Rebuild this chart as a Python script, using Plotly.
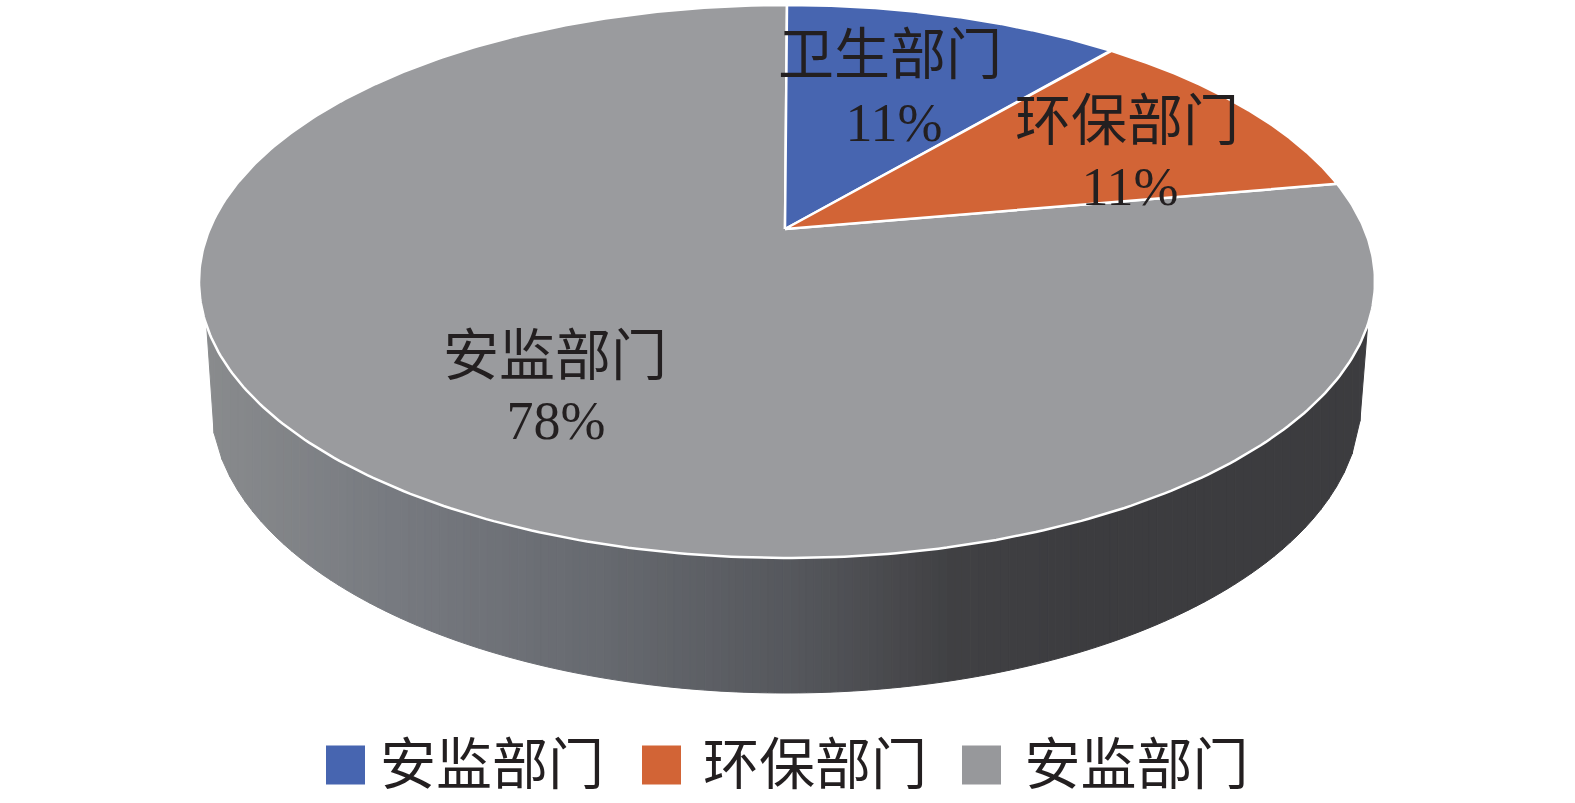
import numpy as np
import plotly.graph_objects as go

# data
categories = ["卫生部门", "环保部门", "安监部门"]
values = [11.1, 11.1, 77.8]
percent_labels = ["11%", "11%", "78%"]
legend_labels = ["安监部门", "环保部门", "安监部门"]

# style
slice_colors = ["#4765B0", "#D26436", "#9A9B9E"]
legend_colors = ["#4765B0", "#D26436", "#97989B"]
FONT = '"Liberation Serif", "Noto Sans CJK SC", serif'
TEXT = "#231F20"
FS_CJK = 56
FS_PCT = 54

# geometry of the tilted disc, in page pixels
CX, CY, RX, RY = 787.0, 281.5, 588.0, 276.5
AX, AY = 785.0, 229.0
CX2, CY2, RX2, RY2 = 786.0, 403.0, 575.0, 290.0
label_xy = [(890, 60, 894, 127), (1127, 126, 1130, 191), (555, 361, 556, 425)]
legend_sq_x = [345.5, 661.5, 981.5]
legend_tx_x = [492, 815, 1136.5]
legend_sq_y, legend_tx_y = 765, 770
side_stops_x = [200, 400, 600, 800, 950, 1100, 1375]
side_stops_rgb = [(0x8A, 0x8C, 0x8E), (0x77, 0x7A, 0x80), (0x67, 0x6A, 0x70),
                  (0x55, 0x57, 0x5C), (0x41, 0x41, 0x44), (0x3C, 0x3C, 0x3F), (0x3D, 0x3D, 0x40)]

d = (CY - AY) / RY
r = (1 - np.sqrt(1 - d * d)) / d
k = (1 - r) / (1 + r)


def rim(phi):
    """Point of the tilted rim for pie angle phi (radians clockwise from the top)."""
    t = 2 * np.arctan2(k * np.sin(phi / 2), np.cos(phi / 2))
    return CX + RX * np.sin(t), CY - RY * np.cos(t)


def top_y(x):
    return CY + RY * np.sqrt(np.clip(1 - ((x - CX) / RX) ** 2, 0, 1))


def bottom_y(x):
    w = np.abs(x - CX2)
    return np.where(w < RX2, CY2 + RY2 * np.sqrt(np.clip(1 - (w / RX2) ** 2, 0, 1)), CY2)


fig = go.Figure()

# side wall as thin vertical gradient strips
xL, xR = CX - RX * 0.9875, CX + RX * 0.9875
edges = np.linspace(xL, xR, 150)
yc = CY + RY * np.sqrt(1 - 0.9875 ** 2)


def low(v):
    lim = CX2 - RX2, CX2 + RX2
    if v < lim[0]:
        return yc + (CY2 - yc) * (v - xL) / (lim[0] - xL)
    if v > lim[1]:
        return yc + (CY2 - yc) * (xR - v) / (xR - lim[1])
    return float(bottom_y(np.array(v)))


for a, b in zip(edges[:-1], edges[1:]):
    m = (a + b) / 2
    rgb = [int(np.interp(m, side_stops_x, [c[i] for c in side_stops_rgb])) for i in range(3)]
    col = f"rgb({rgb[0]},{rgb[1]},{rgb[2]})"
    xs = np.array([a, b, b, a, a])
    ys = [top_y(a) - 4, top_y(b) - 4, low(b), low(a), top_y(a) - 4]
    fig.add_trace(go.Scatter(x=xs, y=ys, mode="lines", fill="toself", fillcolor=col,
                             line=dict(color=col, width=1), hoverinfo="skip", showlegend=False))

# top face wedges, from the values
shares = np.array(values, dtype=float) / sum(values)
ends = np.cumsum(shares) * 2 * np.pi
starts = np.concatenate([[0], ends[:-1]])
for i in [2, 0, 1]:
    phis = np.linspace(starts[i], ends[i], 400)
    ex, ey = rim(phis)
    fig.add_trace(go.Scatter(
        x=np.concatenate([[AX], ex, [AX]]), y=np.concatenate([[AY], ey, [AY]]),
        mode="lines", fill="toself", fillcolor=slice_colors[i],
        line=dict(color="#FFFFFF", width=2.5), name=categories[i],
        hoverinfo="name", showlegend=False))

# data labels
for name, pct, (x1, y1, x2, y2) in zip(categories, percent_labels, label_xy):
    fig.add_trace(go.Scatter(x=[x1], y=[y1], mode="text", text=[name],
                             textposition="middle center",
                             textfont=dict(family=FONT, size=FS_CJK, color=TEXT),
                             hoverinfo="skip", showlegend=False))
    fig.add_trace(go.Scatter(x=[x2], y=[y2], mode="text", text=[pct],
                             textposition="middle center",
                             textfont=dict(family=FONT, size=FS_PCT, color=TEXT),
                             hoverinfo="skip", showlegend=False))

# legend row
fig.add_trace(go.Scatter(x=legend_sq_x, y=[legend_sq_y] * 3, mode="markers",
                         marker=dict(symbol="square", size=39, color=legend_colors, line=dict(width=0)),
                         hoverinfo="skip", showlegend=False))
fig.add_trace(go.Scatter(x=legend_tx_x, y=[legend_tx_y] * 3, mode="text", text=legend_labels,
                         textposition="middle center",
                         textfont=dict(family=FONT, size=FS_CJK, color=TEXT),
                         hoverinfo="skip", showlegend=False))

fig.update_layout(
    width=1575, height=803, autosize=False,
    margin=dict(l=0, r=0, t=0, b=0),
    paper_bgcolor="#FFFFFF", plot_bgcolor="#FFFFFF",
    xaxis=dict(range=[0, 1575], visible=False, fixedrange=True),
    yaxis=dict(range=[803, 0], visible=False, fixedrange=True),
)
fig.write_html("out.html", config={"displayModeBar": False},
               post_script="document.body.style.margin='0';document.documentElement.style.overflow='hidden';")
